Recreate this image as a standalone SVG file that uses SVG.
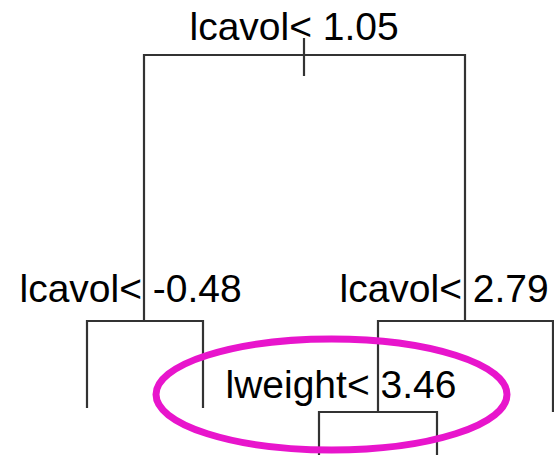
<svg xmlns="http://www.w3.org/2000/svg" width="554" height="455" viewBox="0 0 554 455">
<style>
.lbl{font-family:"Liberation Sans",Arial,sans-serif;font-size:39px;fill:#000}
.ln{stroke:#333;stroke-width:2.2;fill:none}
</style>
<rect width="554" height="455" fill="#fff"/>
<g id="connectors">
<path class="ln" d="M144,320 V55 H465 V320"/>
<path class="ln" d="M304,38 V76"/>
<path class="ln" d="M87,408 V321 H203 V408"/>
<path class="ln" d="M378,412 V321 H553 V412"/>
<path class="ln" d="M319,455 V412 H437 V455"/>
</g>
<g id="n1"><text class="lbl" x="189.5" y="40">lcavol&lt; 1.05</text></g>
<g id="n2"><text class="lbl" x="19.5" y="302">lcavol&lt; -0.48</text></g>
<g id="n3"><text class="lbl" x="339.5" y="302">lcavol&lt; 2.79</text></g>
<g id="n4"><text class="lbl" x="225.5" y="398">lweight&lt; 3.46</text></g>
<g id="highlight"><ellipse cx="331.5" cy="394.5" rx="175.5" ry="55.5" fill="none" stroke="#E815CC" stroke-width="7"/></g>
</svg>
